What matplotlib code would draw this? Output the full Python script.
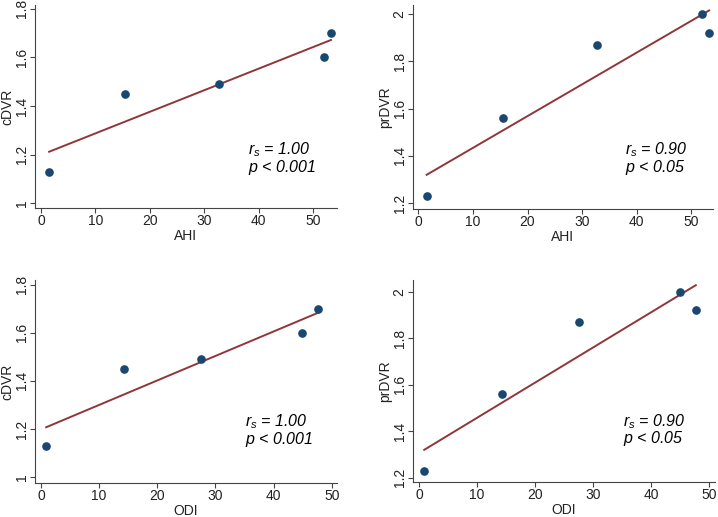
import numpy as np
import matplotlib
matplotlib.use('Agg')
import matplotlib.pyplot as plt
from matplotlib.ticker import FuncFormatter

plt.rcParams['font.family'] = ['Liberation Sans', 'DejaVu Sans']
plt.rcParams['mathtext.fontset'] = 'custom'
plt.rcParams['mathtext.rm'] = 'Liberation Sans'
plt.rcParams['mathtext.it'] = 'Liberation Sans:italic'

# Data
ahi = [1.5, 15.5, 32.8, 52.0, 53.3]
odi = [0.9, 14.3, 27.6, 44.9, 47.7]
cdvr = [1.13, 1.45, 1.49, 1.60, 1.70]
prdvr = [1.23, 1.56, 1.87, 2.00, 1.92]

cdvr_ticks = [1, 1.2, 1.4, 1.6, 1.8]
prdvr_ticks = [1.2, 1.4, 1.6, 1.8, 2]
x_ticks = [0, 10, 20, 30, 40, 50]

stats_c = ('1.00', '0.001')
stats_p = ('0.90', '0.05')

marker_color = '#1a476f'
line_color = '#90353b'

fig = plt.figure(figsize=(7.18, 5.17), dpi=100)

panels = [
    # rect, x, y, xlabel, ylabel, yticks, xlim, ylim, stats, text pos
    ([0.0487, 0.5977, 0.4206, 0.3926], ahi, cdvr, 'AHI', 'cDVR', cdvr_ticks,
     (-1.1, 54.4), (0.98, 1.816), stats_c, (0.705, 0.286)),
    ([0.5752, 0.5957, 0.4178, 0.3946], ahi, prdvr, 'AHI', 'prDVR', prdvr_ticks,
     (-1.0, 54.0), (1.175, 2.038), stats_p, (0.707, 0.29)),
    ([0.0487, 0.0658, 0.4206, 0.3926], odi, cdvr, 'ODI', 'cDVR', cdvr_ticks,
     (-1.03, 50.9), (0.975, 1.82), stats_c, (0.695, 0.30)),
    ([0.5752, 0.0677, 0.4206, 0.3907], odi, prdvr, 'ODI', 'prDVR', prdvr_ticks,
     (-1.03, 51.0), (1.182, 2.05), stats_p, (0.695, 0.30)),
]

fmt = FuncFormatter(lambda v, p: '%g' % v)

for rect, x, y, xl, yl, yt, xlim, ylim, st, tpos in panels:
    ax = fig.add_axes(rect)
    x = np.array(x)
    y = np.array(y)

    # linear fit line over the data range
    b, a = np.polyfit(x, y, 1)
    xs = np.array([x.min(), x.max()])
    ax.plot(xs, a + b * xs, color=line_color, linewidth=1.4, zorder=2)
    ax.plot(x, y, 'o', color=marker_color, markersize=5.2, zorder=3)

    ax.set_xlim(*xlim)
    ax.set_ylim(*ylim)
    ax.set_xticks(x_ticks)
    ax.set_yticks(yt)
    ax.yaxis.set_major_formatter(fmt)
    ax.tick_params(axis='both', labelsize=10, length=3.5, width=0.8,
                   color='#444444', labelcolor='#222222', pad=1)
    for lab in ax.get_yticklabels():
        lab.set_rotation(90)
        lab.set_va('center')

    for s in ['top', 'right']:
        ax.spines[s].set_visible(False)
    for s in ['left', 'bottom']:
        ax.spines[s].set_color('#444444')
        ax.spines[s].set_linewidth(0.8)

    ax.set_xlabel(xl, fontsize=10, color='#222222', labelpad=0.5)
    ax.set_ylabel(yl, fontsize=10, color='#222222', labelpad=0.5)

    ax.text(tpos[0], tpos[1], r'$r_s$ = ' + st[0], transform=ax.transAxes,
            fontsize=11.5, style='italic', va='center', ha='left')
    ax.text(tpos[0], tpos[1] - 0.085, r'$p$ < ' + st[1], transform=ax.transAxes,
            fontsize=11.5, style='italic', va='center', ha='left')

fig.savefig('out.png', dpi=100)
